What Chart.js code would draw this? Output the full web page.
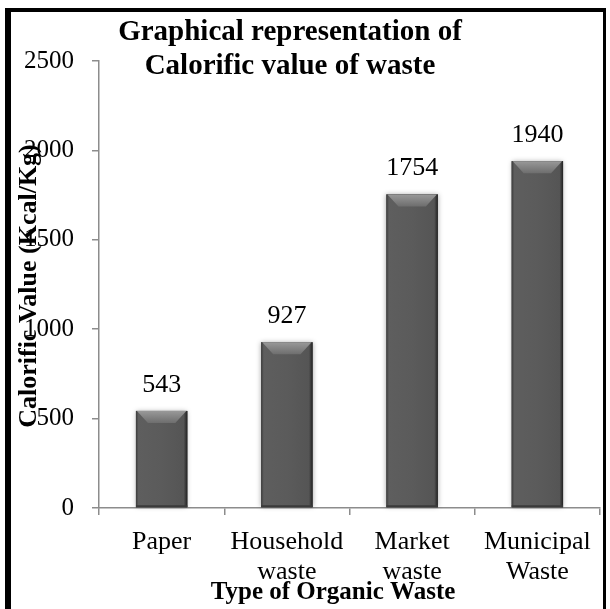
<!DOCTYPE html>
<html>
<head>
<meta charset="utf-8">
<script src="https://cdn.jsdelivr.net/npm/chart.js@4/dist/chart.umd.min.js"></script>
<style>
  body { margin: 0; background: white; }
  #graphBox { width: 610px; height: 609px; }
</style>
</head>
<body>
<div id="graphBox"><canvas id="renderBarChart" width="610" height="609"></canvas></div>
<script>
// chart values
const wasteTypes = [['Paper'], ['Household', 'waste'], ['Market', 'waste'], ['Municipal', 'Waste']];
const calorificValues = [543, 927, 1754, 1940];
const yTicks = [0, 500, 1000, 1500, 2000, 2500];
const chartTitle = ['Graphical representation of', 'Calorific value of waste'];
const yTitle = 'Calorific Value (Kcal/Kg)';
const xTitle = 'Type of Organic Waste';

const serif = '"Liberation Serif", "Times New Roman", serif';
const axisGray = '#8c8c8c';

// soft shadow under each bar, drawn before the bars
const barShadow = {
    id: 'barShadow',
    beforeDatasetsDraw(chart) {
        const ctx = chart.ctx;
        ctx.save();
        ctx.shadowColor = 'rgba(0,0,0,0.35)';
        ctx.shadowBlur = 5;
        ctx.fillStyle = '#585858';
        chart.getDatasetMeta(0).data.forEach(bar => {
            ctx.fillRect(bar.x - bar.width / 2, bar.y, bar.width, bar.base - bar.y);
        });
        ctx.restore();
    }
}

// bevel look + value labels on top of the bars
const barBevel = {
    id: 'barBevel',
    afterDatasetsDraw(chart) {
        const ctx = chart.ctx;
        ctx.save();
        chart.getDatasetMeta(0).data.forEach((bar, i) => {
            const left = bar.x - bar.width / 2;
            const right = bar.x + bar.width / 2;
            const top = bar.y;
            const h = bar.base - bar.y;

            let g = ctx.createLinearGradient(left, 0, right, 0);
            g.addColorStop(0, '#3c3c3c');
            g.addColorStop(0.05, '#5e5e5e');
            g.addColorStop(0.5, '#5b5b5b');
            g.addColorStop(0.93, '#555555');
            g.addColorStop(1, '#222222');
            ctx.fillStyle = g;
            ctx.fillRect(left, top, bar.width, h);

            // top bevel
            const b = 12;
            let gt = ctx.createLinearGradient(0, top, 0, top + b);
            gt.addColorStop(0, '#999999');
            gt.addColorStop(1, '#6e6e6e');
            ctx.fillStyle = gt;
            ctx.beginPath();
            ctx.moveTo(left + 1, top);
            ctx.lineTo(right - 1, top);
            ctx.lineTo(right - b, top + b);
            ctx.lineTo(left + b, top + b);
            ctx.closePath();
            ctx.fill();

            // darker bottom edge
            ctx.fillStyle = '#3a3a3a';
            ctx.fillRect(left, bar.base - 2, bar.width, 2);

            ctx.fillStyle = 'black';
            ctx.font = '26px ' + serif;
            ctx.textAlign = 'center';
            ctx.textBaseline = 'middle';
            ctx.fillText(calorificValues[i], bar.x, top - 26);
        });
        ctx.restore();
    }
}

// frame, title and axis titles
const frameTexts = {
    id: 'frameTexts',
    afterDraw(chart) {
        const ctx = chart.ctx;
        ctx.save();
        ctx.fillStyle = 'black';
        ctx.fillRect(5, 8, 6, 601);
        ctx.fillRect(5, 8, 601, 4);
        ctx.fillRect(603, 8, 3, 601);

        ctx.textAlign = 'center';
        ctx.textBaseline = 'middle';
        ctx.font = 'bold 29px ' + serif;
        ctx.fillText(chartTitle[0], 290, 33);
        ctx.fillText(chartTitle[1], 290, 67);

        ctx.font = 'bold 25px ' + serif;
        ctx.fillText(xTitle, 333, 593);

        ctx.translate(29, 286);
        ctx.rotate(-Math.PI / 2);
        ctx.font = 'bold 26px ' + serif;
        ctx.fillText(yTitle, 0, 0);
        ctx.restore();
    }
}

const data = {
    labels: wasteTypes,
    datasets: [{
        data: calorificValues,
        backgroundColor: '#585858',
        borderWidth: 0,
        categoryPercentage: 1,
        barPercentage: 0.41
    }]
}

const options = {
    responsive: false,
    animation: false,
    layout: { padding: { left: 0, top: 61, right: 10, bottom: 0 } },
    plugins: {
        legend: { display: false },
        title: { display: false },
        tooltip: { enabled: false }
    },
    scales: {
        x: {
            grid: { drawOnChartArea: false, drawTicks: true, tickLength: 7, color: axisGray, lineWidth: 1.5 },
            border: { color: axisGray, width: 1.5 },
            ticks: { color: 'black', padding: 13, font: { family: serif, size: 26, lineHeight: 1.12 }, maxRotation: 0, autoSkip: false },
            afterFit: s => { s.height = 101 }
        },
        y: {
            min: yTicks[0],
            max: yTicks[yTicks.length - 1],
            afterBuildTicks: s => { s.ticks = yTicks.map(v => ({ value: v })) },
            grid: { drawOnChartArea: false, drawTicks: true, tickLength: 7, color: axisGray, lineWidth: 1.5 },
            border: { color: axisGray, width: 1.5 },
            ticks: { color: 'black', padding: 18, font: { family: serif, size: 25 }, callback: v => String(v) },
            afterFit: s => { s.width = 99 }
        }
    }
}

new Chart('renderBarChart', { type: 'bar', data, options, plugins: [barShadow, barBevel, frameTexts] })
</script>
</body>
</html>
